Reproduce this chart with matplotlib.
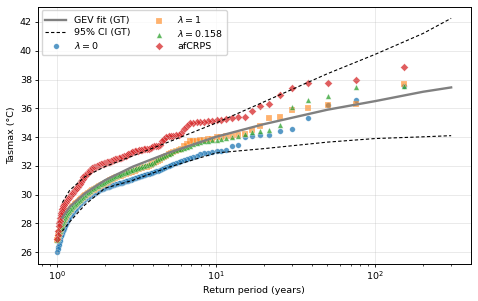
import numpy as np
import matplotlib
matplotlib.use("Agg")
import matplotlib.pyplot as plt

# ---- data (sorted annual maxima, largest first) ----
lam0 = [37.55, 36.55, 36.2, 35.3, 34.54, 34.45, 34.17, 34.12, 34.05, 34.0,
        33.48, 33.36, 33.1, 33.05, 33.0, 32.95, 32.92, 32.88, 32.8, 32.72,
        32.65, 32.58, 32.5, 32.4, 32.33, 32.25, 32.18, 32.1, 32.03, 31.97,
        31.92, 31.87, 31.8, 31.74, 31.68, 31.62, 31.57, 31.53, 31.49, 31.45,
        31.42, 31.39, 31.36, 31.33, 31.29, 31.25, 31.21, 31.17, 31.13, 31.1,
        31.07, 31.04, 31.01, 30.98, 30.95, 30.92, 30.89, 30.86, 30.83, 30.8,
        30.8, 30.78, 30.76, 30.74, 30.72, 30.7, 30.67, 30.64, 30.61, 30.58,
        30.56, 30.54, 30.52, 30.5, 30.48, 30.46, 30.44, 30.42, 30.4, 30.37,
        30.34, 30.3, 30.27, 30.23, 30.2, 30.17, 30.14, 30.1, 30.07, 30.04,
        30.0, 29.97, 29.94, 29.9, 29.87, 29.84, 29.81, 29.78, 29.75, 29.72,
        29.68, 29.64, 29.6, 29.56, 29.52, 29.48, 29.43, 29.38, 29.33, 29.28,
        29.23, 29.18, 29.13, 29.08, 29.03, 28.98, 28.93, 28.88, 28.83, 28.78,
        28.73, 28.68, 28.63, 28.58, 28.53, 28.47, 28.41, 28.35, 28.28, 28.2,
        28.12, 28.04, 27.96, 27.88, 27.8, 27.72, 27.64, 27.56, 27.48, 27.4,
        27.3, 27.2, 27.1, 26.95, 26.8, 26.65, 26.5, 26.35, 26.2, 26.0]

lam1 = [37.7, 36.32, 36.25, 36.04, 35.85, 35.37, 35.35, 34.74, 34.47, 34.2,
        34.17, 34.1, 34.05, 34.0, 33.98, 33.9, 33.85, 33.8, 33.78, 33.76,
        33.74, 33.7, 33.55, 33.35, 33.2, 33.1, 33.0, 32.95, 32.88, 32.8,
        32.7, 32.62, 32.53, 32.44, 32.35, 32.27, 32.19, 32.12, 32.05, 31.99,
        31.95, 31.92, 31.89, 31.86, 31.83, 31.79, 31.75, 31.71, 31.67, 31.63,
        31.6, 31.57, 31.54, 31.51, 31.48, 31.45, 31.42, 31.39, 31.36, 31.33,
        31.3, 31.27, 31.24, 31.21, 31.18, 31.15, 31.11, 31.07, 31.03, 30.99,
        30.95, 30.91, 30.87, 30.83, 30.8, 30.77, 30.74, 30.71, 30.68, 30.65,
        30.62, 30.59, 30.55, 30.51, 30.48, 30.45, 30.42, 30.39, 30.36, 30.33,
        30.3, 30.26, 30.22, 30.18, 30.14, 30.1, 30.06, 30.02, 29.98, 29.95,
        29.92, 29.88, 29.84, 29.8, 29.76, 29.72, 29.68, 29.64, 29.6, 29.56,
        29.52, 29.48, 29.44, 29.4, 29.36, 29.32, 29.28, 29.24, 29.2, 29.16,
        29.12, 29.07, 29.02, 28.97, 28.92, 28.87, 28.82, 28.77, 28.72, 28.67,
        28.62, 28.55, 28.48, 28.41, 28.34, 28.27, 28.19, 28.11, 28.02, 27.93,
        27.83, 27.73, 27.63, 27.53, 27.43, 27.33, 27.23, 27.1, 26.98, 26.85]

lam0158 = [37.55, 37.5, 36.82, 36.55, 36.09, 34.86, 34.47, 34.4, 34.33, 34.24,
           34.05, 33.98, 33.92, 33.87, 33.82, 33.78, 33.74, 33.7, 33.65, 33.6,
           33.5, 33.4, 33.32, 33.26, 33.2, 33.15, 33.1, 33.02, 32.92, 32.82,
           32.75, 32.68, 32.6, 32.52, 32.45, 32.38, 32.3, 32.23, 32.16, 32.1,
           32.07, 32.04, 32.01, 31.98, 31.95, 31.91, 31.87, 31.83, 31.79, 31.75,
           31.72, 31.69, 31.66, 31.63, 31.6, 31.57, 31.54, 31.51, 31.48, 31.45,
           31.42, 31.39, 31.36, 31.33, 31.3, 31.27, 31.23, 31.19, 31.15, 31.11,
           31.07, 31.03, 30.99, 30.95, 30.92, 30.89, 30.86, 30.83, 30.8, 30.77,
           30.74, 30.71, 30.67, 30.63, 30.6, 30.57, 30.54, 30.51, 30.48, 30.45,
           30.41, 30.37, 30.33, 30.29, 30.25, 30.21, 30.17, 30.13, 30.09, 30.05,
           30.0, 29.95, 29.9, 29.86, 29.82, 29.78, 29.74, 29.7, 29.66, 29.62,
           29.58, 29.54, 29.5, 29.46, 29.42, 29.38, 29.34, 29.3, 29.26, 29.22,
           29.18, 29.13, 29.08, 29.03, 28.98, 28.93, 28.88, 28.83, 28.79, 28.75,
           28.7, 28.63, 28.56, 28.49, 28.42, 28.35, 28.27, 28.19, 28.1, 28.0,
           27.9, 27.8, 27.7, 27.6, 27.5, 27.4, 27.3, 27.15, 27.0, 26.85]

afcrps = [38.88, 37.98, 37.79, 37.79, 37.38, 36.92, 36.32, 36.13, 35.78, 35.42,
          35.37, 35.33, 35.26, 35.2, 35.16, 35.14, 35.1, 35.06, 35.05, 35.03,
          35.0, 34.98, 34.8, 34.55, 34.3, 34.15, 34.12, 34.1, 34.08, 34.05,
          34.0, 33.9, 33.75, 33.45, 33.4, 33.38, 33.35, 33.3, 33.25, 33.2,
          33.18, 33.16, 33.14, 33.12, 33.1, 33.08, 33.05, 33.03, 33.0, 32.98,
          32.95, 32.9, 32.85, 32.8, 32.75, 32.7, 32.67, 32.64, 32.6, 32.57,
          32.55, 32.53, 32.5, 32.48, 32.45, 32.42, 32.4, 32.37, 32.34, 32.3,
          32.28, 32.26, 32.24, 32.22, 32.2, 32.18, 32.16, 32.14, 32.12, 32.1,
          32.08, 32.05, 32.02, 31.99, 31.96, 31.94, 31.92, 31.9, 31.88, 31.85,
          31.82, 31.78, 31.72, 31.66, 31.6, 31.55, 31.5, 31.45, 31.4, 31.35,
          31.3, 31.25, 31.2, 31.12, 31.05, 30.98, 30.9, 30.82, 30.74, 30.66,
          30.6, 30.55, 30.5, 30.45, 30.4, 30.35, 30.3, 30.25, 30.2, 30.15,
          30.1, 30.05, 30.0, 29.95, 29.9, 29.85, 29.8, 29.75, 29.7, 29.65,
          29.6, 29.55, 29.5, 29.45, 29.4, 29.35, 29.3, 29.2, 29.1, 29.0,
          28.9, 28.75, 28.6, 28.4, 28.2, 28.0, 27.8, 27.5, 27.2, 26.9]

# GEV fit and 95% CI read at selected return periods
gev_T = [1.08, 1.2, 1.5, 2, 3, 5, 10, 20, 50, 100, 200, 300]
gev_fit = [28.4, 29.15, 30.1, 31.0, 31.95, 32.9, 34.02, 34.9, 35.9, 36.5, 37.15, 37.45]
ci_upper = [29.45, 30.3, 31.25, 31.95, 32.7, 33.65, 34.98, 36.45, 38.4, 39.75, 41.2, 42.25]
ci_lower = [27.47, 28.1, 29.3, 30.45, 31.0, 31.9, 32.9, 33.2, 33.65, 33.9, 34.02, 34.1]

n = len(lam0)
return_period = (n + 1) / np.arange(1, n + 1)

plt.rcParams['font.family'] = ['DejaVu Sans']
plt.rcParams.update({
    'xtick.major.size': 2.2, 'ytick.major.size': 2.2,
    'xtick.minor.size': 1.3, 'ytick.minor.size': 1.3,
    'xtick.major.pad': 2.0, 'ytick.major.pad': 2.0,
    'xtick.major.width': 0.6, 'ytick.major.width': 0.6,
    'xtick.minor.width': 0.5, 'ytick.minor.width': 0.5,
    'axes.linewidth': 0.7, 'axes.labelpad': 2.5,
})
fs = 6.8
fig = plt.figure(figsize=(4.78, 3.01), dpi=100)
ax = fig.add_axes([0.079, 0.123, 0.906, 0.855])

ax.plot(gev_T, gev_fit, color='gray', lw=1.7, label='GEV fit (GT)')
ax.plot(gev_T, ci_upper, color='black', ls='--', lw=0.8, dashes=(3, 2), label='95% CI (GT)')
ax.plot(gev_T, ci_lower, color='black', ls='--', lw=0.8, dashes=(3, 2))

ms = 16
kw = dict(s=ms, edgecolors='white', linewidths=0.25)
ax.scatter(return_period, lam0, marker='o', color='tab:blue', alpha=0.75, label=r'$\lambda=0$', **kw)
ax.scatter(return_period, lam1, marker='s', color='tab:orange', alpha=0.6, label=r'$\lambda=1$', **kw)
ax.scatter(return_period, lam0158, marker='^', color='tab:green', alpha=0.75, label=r'$\lambda=0.158$', **kw)
ax.scatter(return_period, afcrps, marker='D', color='tab:red', alpha=0.75, label='afCRPS', **kw)

ax.set_xscale('log')
ax.set_yticks(np.arange(26, 43, 2))
ax.tick_params(labelsize=fs)
ax.set_xlabel('Return period (years)', fontsize=fs)
ax.set_ylabel('Tasmax (°C)', fontsize=fs)
ax.grid(True, alpha=0.3, lw=0.6)
ax.legend(ncol=2, loc='upper left', fontsize=fs, framealpha=0.8,
          labelspacing=0.3, handlelength=2.2, columnspacing=2.0,
          borderpad=0.4, handletextpad=0.8, borderaxespad=0.4)

fig.savefig('out.png', dpi=100)
